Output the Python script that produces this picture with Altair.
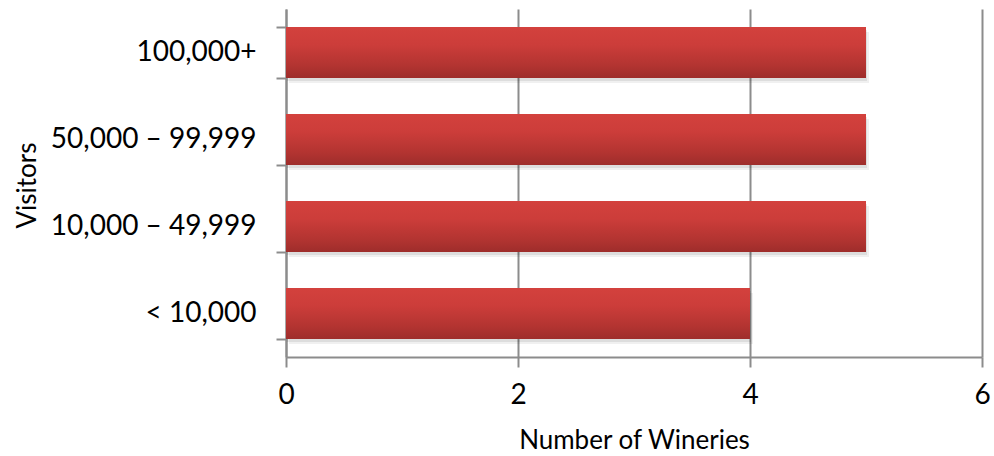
import altair as alt
import pandas as pd

# Wineries grouped by annual visitor count
categories = ["100,000+", "50,000 – 99,999", "10,000 – 49,999", "< 10,000"]
wineries = [5, 5, 5, 4]
x_ticks = [0, 2, 4, 6]

df = pd.DataFrame({"Visitors": categories, "Wineries": wineries})

FONT = "Lato"
GRID = "#8c8c8c"

y_enc = alt.Y(
    "Visitors:N",
    sort=categories,
    scale=alt.Scale(paddingInner=0.414, paddingOuter=0.207),
    axis=alt.Axis(
        title="Visitors",
        titleFont=FONT,
        titleFontSize=26,
        titleFontWeight="normal",
        titleColor="#000000",
        titleX=-259,
        titleY=176,
        titleAngle=-90,
        titleAlign="center",
        titleBaseline="middle",
        labelFont=FONT,
        labelFontSize=28,
        labelColor="#000000",
        labelPadding=20,
        labelLimit=400,
        tickBand="extent",
        tickSize=10,
        tickColor=GRID,
        tickWidth=2,
        domainColor=GRID,
        domainWidth=2,
        grid=False,
    ),
)

x_enc = alt.X(
    "Wineries:Q",
    scale=alt.Scale(domain=[0, 6], nice=False),
    axis=alt.Axis(
        title="Number of Wineries",
        values=x_ticks,
        format="d",
        titleFont=FONT,
        titleFontSize=26,
        titleFontWeight="normal",
        titleColor="#000000",
        titleX=348,
        titleY=83,
        titleBaseline="middle",
        labelFont=FONT,
        labelFontSize=28,
        labelColor="#000000",
        labelPadding=14,
        labelFlush=False,
        tickSize=10,
        tickColor=GRID,
        tickWidth=2,
        domainColor=GRID,
        domainWidth=2,
        grid=True,
        gridColor=GRID,
        gridWidth=2,
    ),
)

base = alt.Chart(df)

# soft drop shadow beneath each bar
shadow_outer = base.mark_bar(color="#000000", opacity=0.06, xOffset=3, yOffset=5).encode(
    x=x_enc, y=y_enc
)
shadow_inner = base.mark_bar(color="#000000", opacity=0.08, xOffset=1, yOffset=3).encode(
    x=x_enc, y=y_enc
)

bars = base.mark_bar(
    color=alt.Gradient(
        gradient="linear",
        x1=0, x2=0, y1=0, y2=1,
        stops=[
            alt.GradientStop(color="#d3413d", offset=0),
            alt.GradientStop(color="#cc3d3a", offset=0.35),
            alt.GradientStop(color="#b33431", offset=0.75),
            alt.GradientStop(color="#9e2d2b", offset=1),
        ],
    )
).encode(x=x_enc, y=y_enc)

chart = (
    alt.layer(shadow_outer, shadow_inner, bars)
    .properties(
        width=696,
        height=348,
        autosize=alt.AutoSizeParams(type="none"),
        padding={"left": 286, "top": 9, "right": 12, "bottom": 99},
        background="#ffffff",
    )
    .configure_view(stroke=None)
)

chart.save("out.html", embed_options={"renderer": "svg", "actions": False})
